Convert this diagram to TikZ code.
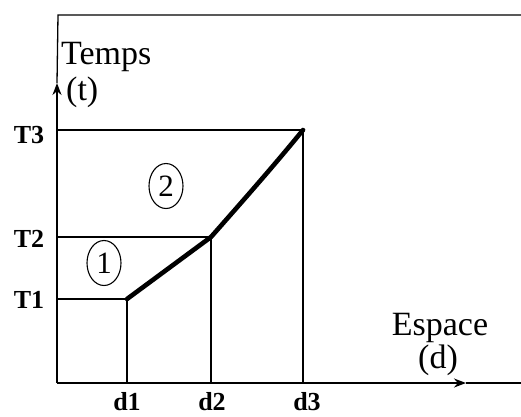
\documentclass[tikz,border=0pt]{standalone}
\usepackage{fontspec}
\setmainfont{Liberation Serif}
\usetikzlibrary{arrows.meta,shapes.geometric}
\begin{document}
\begin{tikzpicture}[x=1pt,y=-1pt,
  thinline/.style={line width=1.3pt},
  axisline/.style={line width=2.8pt,-{Stealth[length=12pt,width=9pt]}},
  pathline/.style={line width=4.6pt,line join=round,line cap=round},
  ticklabel/.style={font=\fontsize{26}{26}\selectfont\bfseries,inner sep=0pt},
  axislabel/.style={font=\fontsize{34}{34}\selectfont,inner sep=0pt},
  zone/.style={draw,ellipse,line width=1.1pt,inner sep=0pt,minimum width=34pt,minimum height=45pt,font=\fontsize{31}{31}\selectfont}]
\useasboundingbox (0,0) rectangle (521,416);
% corner points
\coordinate (O) at (57,383);
\coordinate (ytip) at (57,83);
\coordinate (xtip) at (466,383);
\coordinate (xend) at (521,383);
\coordinate (ftl) at (58,15);
\coordinate (ftr) at (521,15);
\coordinate (t1) at (57,299);
\coordinate (t2) at (57,237);
\coordinate (t3) at (57,130);
\coordinate (p1) at (127,299);
\coordinate (p2) at (211,237);
\coordinate (p3) at (303,130);
\coordinate (d1) at (127,383);
\coordinate (d2) at (211,383);
\coordinate (d3) at (303,383);
% frame
\draw[thinline] (ytip) -- (ftl) -- (ftr);
% axes
\draw[thinline] (xtip) -- (xend);
\draw[axisline] (O) -- (xtip);
\draw[axisline] (O) -- (ytip);
% guide lines
\draw[thinline] (t1) -- (p1) -- (d1);
\draw[thinline] (t2) -- (p2) -- (d2);
\draw[thinline] (t3) -- (p3) -- (d3);
% path
\draw[pathline] (p1) -- (p2) .. controls (240,204) and (272,168) .. (p3);
% labels
\node[ticklabel,anchor=base] (lT1) at (29,308) {T1};
\node[ticklabel,anchor=base] (lT2) at (29,247) {T2};
\node[ticklabel,anchor=base] (lT3) at (29,143) {T3};
\node[ticklabel,anchor=base] (ld1) at (127,410) {d1};
\node[ticklabel,anchor=base] (ld2) at (212,410) {d2};
\node[ticklabel,anchor=base] (ld3) at (307,410) {d3};
\node[axislabel,anchor=base west] (temps) at (61,64) {Temps};
\node[axislabel,anchor=base west] (tt) at (66,100) {(t)};
\node[axislabel,anchor=base] (esp) at (440,335) {Espace};
\node[axislabel,anchor=base] (dd) at (438,368) {(d)};
\node[zone] (z1) at (104,263) {1};
\node[zone] (z2) at (166,186) {2};
\end{tikzpicture}
\end{document}
